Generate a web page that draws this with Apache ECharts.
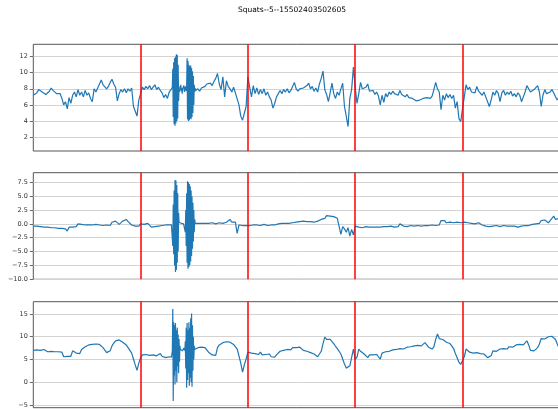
<!DOCTYPE html>
<html><head><meta charset="utf-8">
<script src="https://cdn.jsdelivr.net/npm/echarts@6/dist/echarts.min.js"></script>
<style>html,body{margin:0;padding:0;background:#fff}#c{width:558px;height:409px}</style>
</head><body><div id="c"></div>
<script>
const chartTitle = 'Squats--5--15502403502605';
const sampleCount = 300;
const repBoundaries = [60, 120, 180, 240];

const topTicks = [2, 4, 6, 8, 10, 12];
const topTickLabels = ['2', '4', '6', '8', '10', '12'];
const midTicks = [-10, -7.5, -5, -2.5, 0, 2.5, 5, 7.5];
const midTickLabels = ['\u221210.0', '\u22127.5', '\u22125.0', '\u22122.5', '0.0', '2.5', '5.0', '7.5'];
const botTicks = [-5, 0, 5, 10, 15];
const botTickLabels = ['\u22125', '0', '5', '10', '15'];

// coarse readings, one per sample index
const topValues = [
7.2,7.0,7.5,7.9,7.7,7.6,7.4,7.3,7.5,7.7,
8.1,7.8,7.6,7.4,7.2,7.4,6.8,6.0,6.4,5.5,
6.9,6.2,7.2,7.6,7.0,7.9,7.2,7.6,7.0,7.8,
7.2,7.5,6.8,6.4,8.0,7.6,8.1,8.6,9.1,8.5,
8.7,8.0,8.3,8.8,9.2,8.6,8.2,6.5,7.4,7.9,
7.6,8.0,7.5,8.0,7.7,8.1,5.8,5.2,4.6,6.6,
7.4,8.2,7.9,8.3,8.0,8.4,7.9,8.2,8.5,7.9,
8.2,7.8,7.5,6.9,7.3,6.8,7.6,7.9,12.1,3.6,
12.3,3.9,8.0,7.5,8.4,7.6,12.0,4.1,10.8,4.3,
9.5,7.8,8.0,7.7,8.1,7.9,8.3,8.6,8.4,8.7,
8.4,8.9,9.3,9.9,8.6,7.9,9.5,7.0,9.0,8.3,
8.0,7.6,8.2,7.5,7.6,6.0,4.6,4.1,3.9,5.8,
9.5,8.2,7.0,8.4,7.4,8.1,7.3,7.9,7.4,8.0,
7.2,7.6,7.0,6.6,5.6,6.2,7.0,7.2,7.8,7.4,
7.9,7.6,8.0,7.5,7.8,8.3,8.8,8.0,7.7,8.0,
7.8,8.1,7.9,8.4,8.7,8.0,8.3,7.7,8.1,7.6,
8.6,9.3,10.2,7.9,7.3,6.4,7.5,8.7,7.4,6.8,
7.6,7.2,8.0,8.7,5.8,4.6,3.3,6.8,7.9,10.7,
8.2,6.2,7.4,8.8,8.0,7.8,8.2,8.6,7.7,7.5,
7.8,7.3,7.6,7.1,6.0,7.2,6.3,7.4,7.0,7.6,
7.3,7.7,7.4,7.6,7.2,7.8,7.3,7.5,7.0,7.3,
6.9,7.1,6.8,6.9,6.5,6.3,6.6,6.5,6.8,6.7,
6.9,7.0,6.8,7.1,7.9,8.8,8.0,7.6,5.4,7.2,
6.6,7.4,6.9,7.3,6.8,7.2,5.6,6.4,4.3,3.9,
5.5,7.0,8.5,7.9,8.2,7.6,7.8,7.5,8.3,7.7,
7.9,7.2,7.6,7.0,6.8,5.8,6.6,7.6,7.2,7.8,
7.4,6.4,7.5,7.8,7.2,7.6,7.3,7.7,7.1,7.4,
7.0,7.5,7.2,6.4,7.0,7.6,8.4,8.0,7.6,7.7,
7.9,8.1,8.4,7.6,5.8,7.2,7.9,7.4,7.2,7.6,
7.9,7.5,7.0,6.6,7.0,7.4,7.8,7.5,7.2,7.6
];

const midValues = [
-0.4,-0.5,-0.4,-0.6,-0.5,-0.6,-0.6,-0.7,-0.6,-0.7,
-0.7,-0.8,-0.7,-0.9,-0.8,-0.9,-0.8,-1.0,-0.9,-1.3,
-0.6,-0.5,-0.6,-0.4,-0.5,0.0,-0.2,-0.1,-0.3,-0.2,
-0.4,-0.2,-0.3,-0.2,-0.3,-0.1,-0.3,-0.2,-0.4,-0.3,
-0.5,-0.2,-0.4,-0.3,0.3,0.6,0.5,0.7,-0.1,0.2,
0.5,0.3,0.8,0.4,0.2,-0.2,-0.3,-0.4,-0.2,-0.4,
0.0,0.1,-0.1,0.2,0.1,-0.2,-0.6,-0.7,-0.5,-0.3,
-0.4,-0.2,-0.3,-0.4,-0.2,-0.3,-0.2,-0.3,-4.2,7.9,
-8.7,7.5,-6.0,0.2,0.1,-2.0,7.7,-8.1,6.5,-6.0,
3.0,0.2,0.1,0.2,0.1,0.2,0.1,0.2,0.1,0.2,
0.2,0.1,0.0,0.1,0.2,0.0,0.1,0.2,0.3,0.4,
0.8,0.3,0.2,0.3,-1.7,-0.2,-0.5,-0.3,-0.6,-0.3,
-0.2,-0.3,-0.1,-0.2,-0.3,-0.2,-0.1,-0.3,-0.2,-0.1,
-0.2,-0.3,-0.1,-0.2,-0.1,-0.2,-0.1,0.0,-0.1,0.1,
0.0,0.1,0.3,0.1,0.3,0.2,0.4,0.3,0.2,0.4,
0.3,0.5,0.3,0.4,0.2,0.4,0.5,0.3,0.4,0.5,
0.6,0.8,0.6,1.0,1.5,1.7,1.4,1.6,1.3,1.2,
1.0,0.7,-1.9,-0.5,-0.9,-1.5,-0.7,-2.2,-1.0,-2.0,
-0.4,-0.7,-0.6,-0.5,-0.7,-0.6,-0.5,-0.7,-0.6,-0.5,
-0.6,-0.5,-0.6,-0.5,-0.6,-0.7,-0.5,-0.6,-0.5,-0.6,
-0.4,-0.5,-0.6,-0.4,-0.5,0.0,-0.3,-0.4,-0.3,-0.5,
-0.4,-0.3,-0.5,-0.4,-0.4,-0.3,-0.5,-0.4,-0.4,-0.3,
-0.4,-0.3,-0.4,-0.2,-0.4,-0.3,-0.1,-0.2,0.6,0.4,
0.6,0.2,0.1,0.3,0.0,0.2,0.1,0.3,0.1,0.2,
0.0,0.3,0.1,0.2,0.2,0.1,0.3,0.0,0.1,0.2,
0.0,-0.2,-0.3,-0.4,-0.2,-0.5,-0.3,-0.4,-0.6,-0.3,
-0.4,-0.5,-0.4,-0.3,-0.4,-0.4,-0.3,-0.4,-0.5,-0.4,
-0.5,-0.6,-0.5,-0.4,-0.5,-0.3,-0.4,-0.3,-0.2,-0.1,
-0.2,0.0,-0.3,0.1,0.6,0.4,0.7,0.5,0.2,0.4,
1.0,1.4,0.8,0.9,1.0,0.8,1.1,0.9,1.0,0.9
];

const botValues = [
7.0,6.7,7.1,7.3,7.0,7.3,7.2,6.9,6.7,7.0,
6.8,6.6,6.7,6.5,6.7,6.4,6.6,5.6,6.0,5.7,
6.0,5.7,6.9,6.6,6.4,6.7,6.3,7.2,7.5,7.8,
7.9,8.2,8.0,8.3,7.9,8.4,8.1,8.3,7.9,7.6,
7.2,6.5,6.2,6.9,8.0,8.6,9.1,9.5,9.3,9.1,
8.8,8.5,8.2,7.6,7.2,6.4,5.1,3.8,2.6,4.2,
5.4,6.0,5.8,6.1,6.2,5.9,6.3,6.0,6.2,5.8,
6.1,6.3,5.7,6.0,5.4,5.2,5.6,6.0,16.1,-4.1,
13.0,0.0,12.5,5.0,7.2,11.5,-1.2,13.0,0.5,15.1,
-0.9,7.5,7.6,7.3,7.7,7.4,7.6,7.2,6.6,6.3,
6.0,5.8,5.9,7.6,8.2,8.4,8.7,8.6,8.9,8.6,
8.8,8.5,8.3,8.0,7.3,5.8,4.2,2.2,3.8,5.1,
6.6,6.9,6.4,6.8,6.3,6.7,6.1,6.6,6.0,6.4,
6.1,5.9,6.2,5.6,5.9,5.5,6.0,6.2,6.8,6.4,
7.0,6.6,7.2,7.4,7.1,7.6,7.9,7.6,8.0,7.7,
7.4,7.0,7.2,6.8,6.7,6.5,6.6,6.2,5.8,5.6,
5.8,6.8,8.5,9.9,9.4,9.2,9.4,9.1,8.5,7.9,
7.4,7.0,6.2,5.8,4.0,3.1,2.9,3.6,3.3,7.3,
5.0,5.5,7.3,6.8,6.5,6.2,5.8,5.4,6.0,6.2,
6.0,6.3,6.1,5.6,5.1,6.4,6.8,6.7,6.9,6.8,
7.0,7.1,6.9,7.2,7.3,7.4,7.5,7.3,7.6,7.7,
7.5,7.8,7.7,8.0,7.9,8.1,8.2,8.0,8.4,8.7,
8.2,7.7,7.4,7.3,7.8,9.4,10.6,9.6,9.6,9.4,
9.2,8.8,8.9,8.5,8.0,7.4,6.3,5.4,4.4,3.9,
3.6,5.6,7.3,6.9,6.6,6.9,6.4,6.8,6.5,6.9,
6.3,6.6,6.2,6.0,5.4,5.5,5.8,6.9,7.1,6.8,
7.2,7.3,7.0,7.4,7.6,7.3,7.8,8.0,7.7,8.1,
8.2,8.0,8.3,8.4,8.2,8.6,9.1,8.2,7.0,6.7,
6.9,7.2,7.6,8.4,9.6,9.8,9.5,9.9,10.0,9.8,
10.1,9.9,9.4,8.4,7.5,7.0,7.2,6.9,7.1,6.8
];

// finer readings of the oscillating bursts (sample index 77 .. 90.75, step 0.25)
const burstStart = 77;
const burstEnd = 91;
const burstStep = 0.25;
const topBurst = [
7.9,8.1,7.8,8.2,
10.5,4.5,11.3,3.6,11.8,3.4,12.0,3.7,12.3,4.0,12.2,4.3,11.0,
6.5,8.0,7.6,8.3,7.9,8.5,7.7,8.1,7.4,8.0,8.2,7.8,8.4,7.6,8.0,7.9,8.3,7.7,8.1,
11.8,4.2,11.5,4.0,11.0,4.1,10.8,4.3,10.9,4.2,10.6,4.5,10.2,5.0,9.6,
6.0,8.5,7.6,8.1,7.8
];
const midBurst = [
-0.3,-0.2,-0.4,-0.3,
-4.0,3.5,-5.5,6.0,-7.5,7.9,-8.7,7.8,-8.3,7.0,-7.0,5.5,-5.0,
2.0,0.3,0.1,0.2,0.0,0.2,0.1,0.2,0.3,0.1,0.2,0.0,0.2,0.1,0.3,-1.5,2.5,-4.0,5.5,
-7.0,7.7,-8.1,7.5,-7.8,7.2,-7.4,6.8,-6.8,6.0,-5.8,5.0,-4.5,3.8,-3.2,
2.5,-1.5,0.8,0.1,0.2
];
const botBurst = [
6.0,5.5,6.2,7.0,
16.1,-4.1,13.2,1.5,12.5,-0.5,13.0,2.5,11.5,0.0,12.0,3.5,10.5,
2.0,9.5,4.5,8.0,7.2,6.8,7.4,7.0,7.3,6.9,7.2,7.5,7.1,7.4,7.0,9.0,3.0,12.0,-1.2,
13.0,0.5,11.5,2.0,13.2,-0.8,12.0,1.0,14.0,0.0,15.1,-1.0,12.5,2.5,10.0,
5.0,8.0,7.2,7.6,7.4
];

function buildSeriesData(coarse, fine) {
  const out = [];
  for (let k = 0; k < burstStart; k++) out.push([k, coarse[k]]);
  for (let j = 0; j < fine.length; j++) out.push([burstStart + j * burstStep, fine[j]]);
  for (let k = burstEnd; k < coarse.length; k++) out.push([k, coarse[k]]);
  return out;
}

const chart = echarts.init(document.getElementById('c'), null, {renderer: 'canvas'});
const FONT = 'DejaVu Sans';
const gridDefs = [
  {left: 33.3, top: 44.3, width: 536.5, height: 106.7},
  {left: 33.3, top: 172.7, width: 536.5, height: 106.6},
  {left: 33.3, top: 301.7, width: 536.5, height: 106.0}
];
const yDefs = [
  {min: 0.26, max: 13.54, splitNumber: 6, ticks: topTicks, labels: topTickLabels},
  {min: -10, max: 9.23, interval: 2.5, ticks: midTicks, labels: midTickLabels},
  {min: -5.6, max: 17.7, splitNumber: 5, ticks: botTicks, labels: botTickLabels}
];
const seriesData = [
  buildSeriesData(topValues, topBurst),
  buildSeriesData(midValues, midBurst),
  buildSeriesData(botValues, botBurst)
];

function labelFor(def, v) {
  for (let i = 0; i < def.ticks.length; i++) {
    if (Math.abs(def.ticks[i] - v) < 1e-6) return def.labels[i];
  }
  return '';
}

const option = {
  animation: false,
  backgroundColor: '#ffffff',
  graphic: [{
    type: 'text', x: 292, y: 10,
    style: {text: chartTitle, fill: '#000', font: '7.5px "DejaVu Sans"', align: 'center', verticalAlign: 'middle'}
  }],
  grid: gridDefs.map(g => Object.assign({
    show: true, borderColor: '#555', borderWidth: 1, backgroundColor: 'transparent',
    containLabel: false, outerBoundsMode: 'none'
  }, g)),
  xAxis: gridDefs.map((g, i) => ({
    type: 'value', gridIndex: i, min: 0, max: sampleCount,
    axisLine: {show: false}, axisTick: {show: false}, axisLabel: {show: false}, splitLine: {show: false}
  })),
  yAxis: yDefs.map((d, i) => {
    const ax = {
      type: 'value', gridIndex: i, min: d.min, max: d.max,
      axisLine: {show: false},
      axisTick: {show: true, length: 3.5, lineStyle: {color: '#444', width: 0.8}, customValues: d.ticks},
      axisLabel: {
        show: true, customValues: d.ticks, margin: 5.5, color: '#333', fontSize: 6.5, fontFamily: FONT,
        formatter: v => labelFor(d, v)
      },
      splitLine: {show: true, lineStyle: {color: '#d3d3d3', width: 1}}
    };
    if (d.interval) ax.interval = d.interval; else ax.splitNumber = d.splitNumber;
    return ax;
  }),
  series: seriesData.map((data, i) => ({
    type: 'line', xAxisIndex: i, yAxisIndex: i,
    data: data,
    showSymbol: false, symbol: 'none',
    lineStyle: {color: '#1f77b4', width: 1.2},
    clip: true,
    markLine: {
      silent: true, symbol: ['none', 'none'], label: {show: false},
      lineStyle: {color: '#ff0000', width: 1.5, type: 'solid'},
      emphasis: {disabled: true},
      data: repBoundaries.map(b => ({xAxis: b}))
    }
  }))
};
chart.setOption(option);
</script>
</body></html>
